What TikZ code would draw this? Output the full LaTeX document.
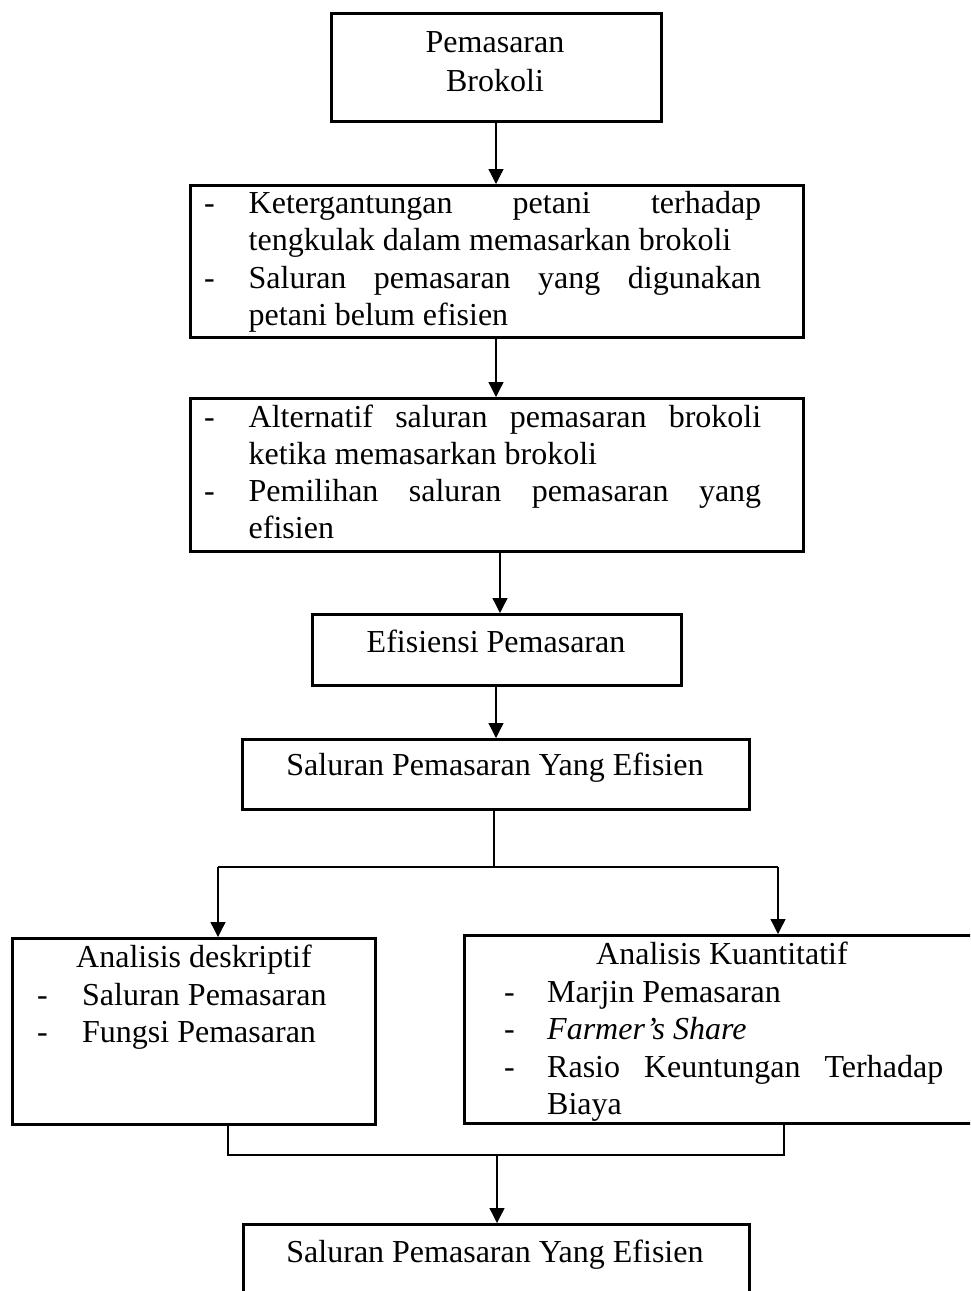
\documentclass[tikz,border=0pt]{standalone}
\usepackage{fontspec}
\setmainfont{Liberation Serif}
\usetikzlibrary{arrows.meta}
\tikzset{
  box/.style={draw, line width=2.6pt, rectangle, inner sep=0pt, anchor=north west},
  txt/.style={inner sep=0pt, font=\fontsize{32}{37.5}\selectfont},
  conn/.style={line width=1.3pt},
  arr/.style={line width=1.3pt, -{Triangle[length=15pt,width=15pt]}}
}
\begin{document}
\begin{tikzpicture}[x=1pt,y=-1pt]
\useasboundingbox (0,0) rectangle (970,1291);
\clip (0,0) rectangle (970,1291);
% boxes
\node[box, minimum width=330pt, minimum height=108pt] (b1) at (330,12) {};
\node[box, minimum width=613pt, minimum height=152pt] (b2) at (189,184) {};
\node[box, minimum width=613pt, minimum height=153pt] (b3) at (189,397) {};
\node[box, minimum width=369pt, minimum height=71pt] (b4) at (311,613) {};
\node[box, minimum width=507pt, minimum height=70pt] (b5) at (241,738) {};
\node[box, minimum width=363pt, minimum height=186pt] (b6) at (11,937) {};
\node[box, minimum width=540pt, minimum height=188pt] (b7) at (463,934) {};
\node[box, minimum width=506pt, minimum height=120pt] (b8) at (242,1223) {};
% box 1
\node[txt, anchor=base] (t1a) at (495,52) {Pemasaran};
\node[txt, anchor=base] (t1b) at (495,91) {Brokoli};
% box 2
\node[txt, anchor=base west] (d2a) at (204,213) {-};
\node[txt, anchor=base west] (t2a) at (248.5,213) {\makebox[512.5pt][s]{Ketergantungan petani terhadap}};
\node[txt, anchor=base west] (t2b) at (248.5,250.5) {tengkulak dalam memasarkan brokoli};
\node[txt, anchor=base west] (d2b) at (204,288) {-};
\node[txt, anchor=base west] (t2c) at (248.5,288) {\makebox[512.5pt][s]{Saluran pemasaran yang digunakan}};
\node[txt, anchor=base west] (t2d) at (248.5,325.5) {petani belum efisien};
% box 3
\node[txt, anchor=base west] (d3a) at (204,427) {-};
\node[txt, anchor=base west] (t3a) at (248.5,427) {\makebox[512.5pt][s]{Alternatif saluran pemasaran brokoli}};
\node[txt, anchor=base west] (t3b) at (248.5,464) {ketika memasarkan brokoli};
\node[txt, anchor=base west] (d3b) at (204,501) {-};
\node[txt, anchor=base west] (t3c) at (248.5,501) {\makebox[512.5pt][s]{Pemilihan saluran pemasaran yang}};
\node[txt, anchor=base west] (t3d) at (248.5,538) {efisien};
% box 4, 5
\node[txt, anchor=base] (t4) at (496,652) {Efisiensi Pemasaran};
\node[txt, anchor=base] (t5) at (495,775) {Saluran Pemasaran Yang Efisien};
% box 6
\node[txt, anchor=base] (t6) at (194,967) {Analisis deskriptif};
\node[txt, anchor=base west] (d6a) at (37,1005) {-};
\node[txt, anchor=base west] (t6a) at (82,1005) {Saluran Pemasaran};
\node[txt, anchor=base west] (d6b) at (37,1042) {-};
\node[txt, anchor=base west] (t6b) at (82,1042) {Fungsi Pemasaran};
% box 7
\node[txt, anchor=base] (t7) at (722,964) {Analisis Kuantitatif};
\node[txt, anchor=base west] (d7a) at (504,1002) {-};
\node[txt, anchor=base west] (t7a) at (547,1002) {Marjin Pemasaran};
\node[txt, anchor=base west] (d7b) at (504,1039) {-};
\node[txt, anchor=base west] (t7b) at (547,1039) {\itshape Farmer’s Share};
\node[txt, anchor=base west] (d7c) at (504,1077) {-};
\node[txt, anchor=base west] (t7c) at (547,1077) {\makebox[396pt][s]{Rasio Keuntungan Terhadap}};
\node[txt, anchor=base west] (t7d) at (547,1114) {Biaya};
% box 8
\node[txt, anchor=base] (t8) at (495,1262) {Saluran Pemasaran Yang Efisien};
% connectors
\draw[arr] (b1.south -| 496,0) -- (b2.north -| 496,0);
\draw[arr] (b2.south -| 496,0) -- (b3.north -| 496,0);
\draw[arr] (b3.south -| 500,0) -- (b4.north -| 500,0);
\draw[arr] (b4.south -| 496,0) -- (b5.north -| 496,0);
\coordinate (s5) at (494,867);
\coordinate (sl) at (218,867);
\coordinate (sr) at (778,867);
\draw[conn] (b5.south -| s5) -- (s5);
\draw[conn] (sl) -- (sr);
\draw[arr] (sl) -- (b6.north -| sl);
\draw[arr] (sr) -- (b7.north -| sr);
\coordinate (jl) at (228,1155);
\coordinate (jr) at (784,1155);
\coordinate (jm) at (497,1155);
\draw[conn] (b6.south -| jl) -- (jl) -- (jr) -- (b7.south -| jr);
\draw[arr] (jm) -- (b8.north -| jm);
\end{tikzpicture}
\end{document}
